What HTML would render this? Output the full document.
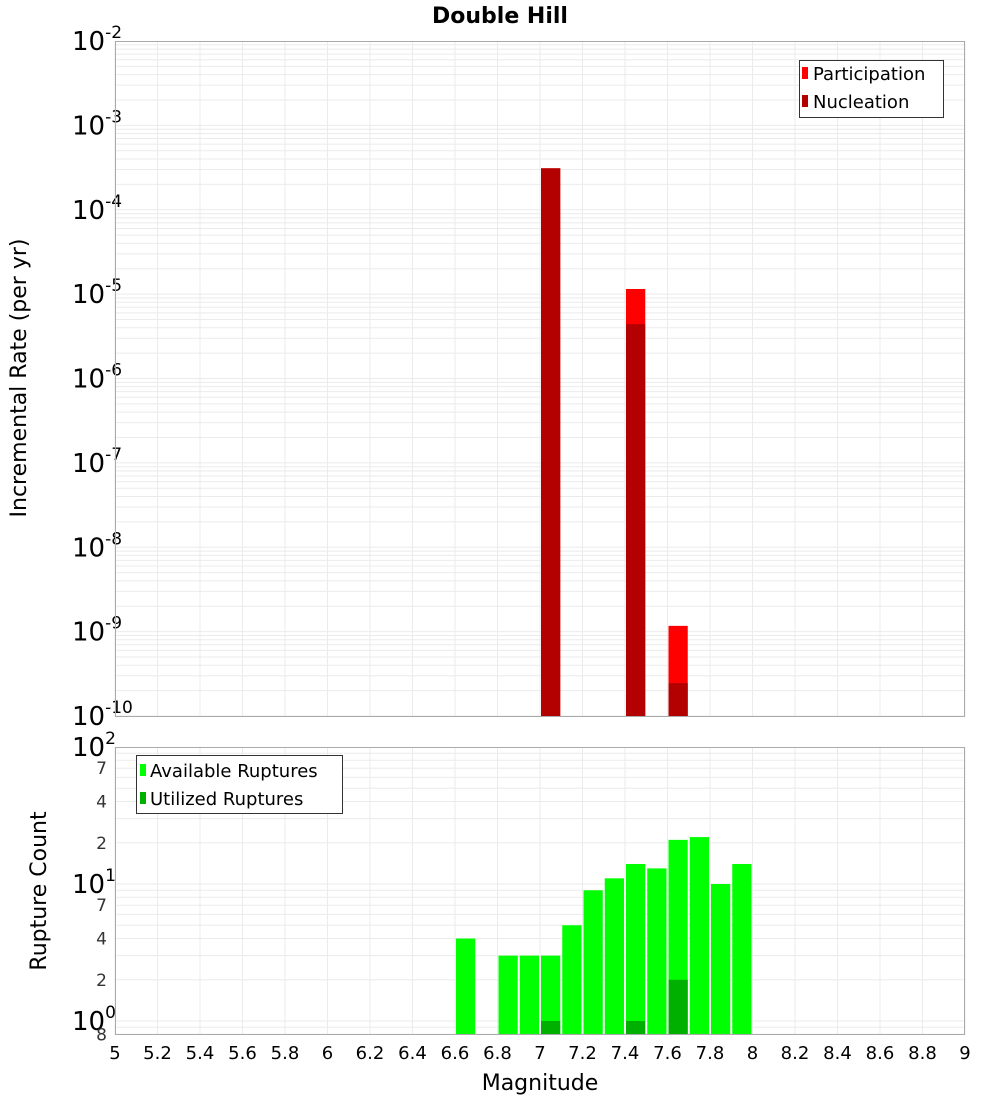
<!DOCTYPE html>
<html><head><meta charset="utf-8"><style>
body{margin:0;background:#fff;}
svg{display:block;font-family:"DejaVu Sans","Liberation Sans",sans-serif;}
</style></head><body>
<svg id="c" width="1000" height="1100" xmlns="http://www.w3.org/2000/svg">
<text x="500" y="23" text-anchor="middle" font-size="22" font-weight="bold">Double Hill</text>
<g id="grid"></g><g id="bars"></g><g id="axes"></g>
<text transform="translate(26,378) rotate(-90)" text-anchor="middle" font-size="22">Incremental Rate (per yr)</text>
<text transform="translate(46,891) rotate(-90)" text-anchor="middle" font-size="22">Rupture Count</text>
<text x="540" y="1090" text-anchor="middle" font-size="22">Magnitude</text>
<g>
<rect x="799.5" y="60.5" width="144" height="57" fill="#fff" stroke="#333"/>
<rect x="802" y="67" width="6" height="12" fill="#ff0000"/>
<text x="813" y="80" font-size="18">Participation</text>
<rect x="802" y="95" width="6" height="12" fill="#b30000"/>
<text x="813" y="108" font-size="18">Nucleation</text>
</g>
<g>
<rect x="136.5" y="755.5" width="206" height="58" fill="#fff" stroke="#333"/>
<rect x="140" y="764" width="6" height="12" fill="#00ff00"/>
<text x="150" y="777" font-size="18">Available Ruptures</text>
<rect x="140" y="792" width="6" height="12" fill="#00b000"/>
<text x="150" y="805" font-size="18">Utilized Ruptures</text>
</g>
</svg>
<script>
const rateMags=[7.05,7.45,7.65];
const participation=[3.1e-4,1.15e-5,1.17e-9];
const nucleation=[3.1e-4,4.4e-6,2.45e-10];
const countMags=[6.65,6.85,6.95,7.05,7.15,7.25,7.35,7.45,7.55,7.65,7.75,7.85,7.95];
const available=[4,3,3,3,5,9,11,14,13,21,22,10,14];
const utilizedMags=[7.05,7.45,7.65];
const utilized=[1,1,2];
const xTicks=[5,5.2,5.4,5.6,5.8,6,6.2,6.4,6.6,6.8,7,7.2,7.4,7.6,7.8,8,8.2,8.4,8.6,8.8,9];
const topExps=[-10,-9,-8,-7,-6,-5,-4,-3,-2];
const botMinor=[0.8,2,4,7,20,40,70];

const NS="http://www.w3.org/2000/svg";
const L=115,R=965,T1=41,B1=716,T2=747,B2=1035;
const X=m=>L+(m-5)/4*(R-L);
const Y1=v=>B1-(Math.log10(v)+10)/8*(B1-T1);
const Y2=v=>T2+(2-Math.log10(v))*137;
function mk(p,tag,a,txt){const e=document.createElementNS(NS,tag);for(const k in a)e.setAttribute(k,a[k]);if(txt!==undefined)e.textContent=txt;p.appendChild(e);return e;}
const G=document.getElementById('grid'),Bz=document.getElementById('bars'),A=document.getElementById('axes');
const gc="#ebebeb";
// vertical grid
xTicks.forEach(t=>{const x=X(t);
 let l=mk(G,'line',{x1:x,x2:x,y1:T1,y2:B1,stroke:gc});
 
 
 l=mk(G,'line',{x1:x,x2:x,y1:T2,y2:B2,stroke:gc});
 
 
 const tx=mk(A,'text',{x:x,y:1059,'text-anchor':'middle','font-size':18},String(t));
 
 
});
// top log grid
for(let e=-10;e<-2;e++)for(let k=1;k<10;k++){const y=Y1(k*Math.pow(10,e));
 const l=mk(G,'line',{x1:L,x2:R,y1:y,y2:y,stroke:gc});
 
 }
topExps.forEach(e=>{const y=Y1(Math.pow(10,e));
 const t=mk(A,'text',{x:72,y:y+9,'font-size':26});
 
 
 mk(t,'tspan',{},'10');mk(t,'tspan',{dy:-12,'font-size':17},String(e));});
// bottom log grid
for(let e=-1;e<2;e++)for(let k=1;k<10;k++){const v=k*Math.pow(10,e);if(v<0.8)continue;const y=Y2(v);
 const l=mk(G,'line',{x1:L,x2:R,y1:y,y2:y,stroke:gc});
 
 }
[0,1,2].forEach(e=>{const y=Y2(Math.pow(10,e));
 const t=mk(A,'text',{x:72,y:y+9,'font-size':26});
 
 
 mk(t,'tspan',{},'10');mk(t,'tspan',{dy:-12,'font-size':17},String(e));});
botMinor.forEach(v=>{const y=Y2(v);
 const t=mk(A,'text',{x:107,y:y+6,'text-anchor':'end','font-size':17,fill:'#333'},v<1?String(Math.round(v*10)):String(v<10?v:v/10));
 
 });
const bw=0.1*(R-L)/4-2;
function bar(m,v,y0,Yf,fill,name){const x=X(m)-bw/2,y=Yf(v);
 const r=mk(Bz,'rect',{x:x,y:y,width:bw,height:y0-y,fill:fill});
 
 }
rateMags.forEach((m,i)=>bar(m,participation[i],B1,Y1,'#ff0000','participation-bar'));
rateMags.forEach((m,i)=>bar(m,nucleation[i],B1,Y1,'#b30000','nucleation-bar'));
countMags.forEach((m,i)=>bar(m,available[i],B2,Y2,'#00ff00','available-bar'));
utilizedMags.forEach((m,i)=>bar(m,utilized[i],B2,Y2,'#00b000','utilized-bar'));
let f=mk(A,'rect',{x:L+.5,y:T1+.5,width:R-L-1,height:B1-T1,fill:'none',stroke:'#aaa'});


f=mk(A,'rect',{x:L+.5,y:T2+.5,width:R-L-1,height:B2-T2-1,fill:'none',stroke:'#aaa'});


</script>
</body></html>
